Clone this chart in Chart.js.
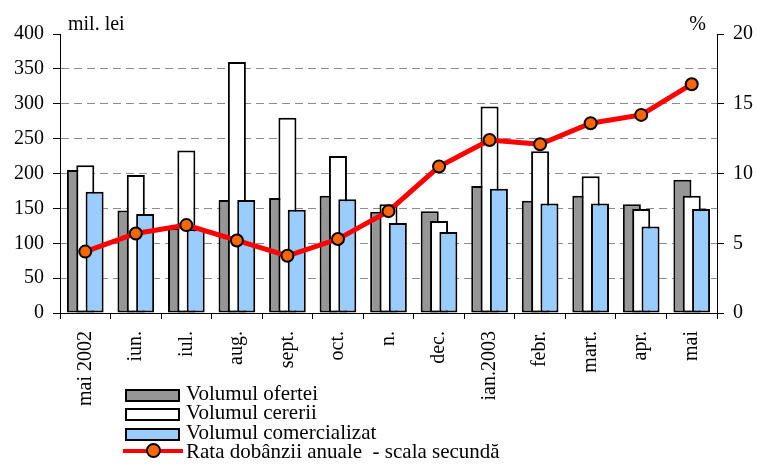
<!DOCTYPE html>
<html>
<head>
<meta charset="utf-8">
<script src="https://cdn.jsdelivr.net/npm/chart.js@4/dist/chart.umd.min.js"></script>
<style>
  html, body { margin: 0; padding: 0; background: #fff; }
  #wrap { position: relative; width: 757px; height: 464px; overflow: hidden; }
  #c { position: absolute; left: 0; top: 0; }
  #legend { position: absolute; left: 123px; top: 386px; font-family: "Liberation Serif", "Times New Roman", serif; font-size: 21px; color: #000; }
  .row { position: relative; height: 19.3px; white-space: pre; }
  .box { position: absolute; left: 2px; top: 3px; width: 51px; height: 9px; border: 2px solid #000; }
  .lbl { position: absolute; left: 63px; top: -5px; line-height: 24px; white-space: pre; }
  .ln { position: absolute; left: 0; top: 5px; width: 60px; height: 4px; background: #ff0000; }
  .dot { position: absolute; left: 23px; top: -0.5px; width: 11px; height: 11px; border: 2px solid #000; border-radius: 50%; background: #ff6600; }
</style>
</head>
<body>
<div id="wrap">
  <canvas id="c" width="757" height="464"></canvas>
  <div id="legend"></div>
</div>
<script>
const categories = ["mai 2002", "iun.", "iul.", "aug.", "sept.", "oct.", "n.", "dec.", "ian.2003", "febr.", "mart.", "apr.", "mai"];
const volumulOfertei = [205, 147, 121, 162, 165, 168, 145, 146, 182, 161, 168, 156, 191];
const volumulCererii = [212, 198, 233, 360, 280, 225, 156, 132, 296, 232, 196, 149, 168];
const volumulComercializat = [174, 142, 120, 162, 148, 163, 129, 116, 178, 157, 157, 124, 149];
const rataDobanzii = [4.4, 5.7, 6.3, 5.2, 4.1, 5.3, 7.3, 10.5, 12.4, 12.1, 13.6, 14.2, 16.4];
const seriesNames = ["Volumul ofertei", "Volumul cererii", "Volumul comercializat", "Rata dobânzii anuale  - scala secundă"];
const leftTicks = [0, 50, 100, 150, 200, 250, 300, 350, 400];
const rightTicks = [0, 5, 10, 15, 20];

const FONT = "'Liberation Serif', 'Times New Roman', serif";

// draw bars in order gray -> white -> blue, then the line on top
const drawOrderPlugin = {
  id: 'drawOrder',
  beforeDatasetsDraw(chart) {
    const ctx = chart.ctx;
    [0, 1, 2, 3].forEach(i => {
      const meta = chart.getDatasetMeta(i);
      if (meta && meta.visible !== false) {
        ctx.save();
        meta.controller.draw();
        ctx.restore();
      }
    });
    return false;
  }
};

const unitsPlugin = {
  id: 'units',
  afterDraw(chart) {
    const ctx = chart.ctx;
    const a = chart.chartArea;
    ctx.save();
    ctx.fillStyle = '#000';
    ctx.font = "20px " + FONT;
    ctx.textBaseline = 'alphabetic';
    ctx.textAlign = 'left';
    ctx.fillText('mil. lei', a.left + 8, a.top - 4);
    ctx.textAlign = 'right';
    ctx.fillText('%', a.right - 11, a.top - 4);
    ctx.restore();
  }
};

const barCommon = {
  type: 'bar',
  yAxisID: 'y',
  borderColor: '#000',
  borderWidth: 2,
  borderSkipped: false,
  categoryPercentage: 0.554,
  barPercentage: 1.93
};

new Chart(document.getElementById('c'), {
  data: {
    labels: categories,
    datasets: [
      Object.assign({}, barCommon, { label: seriesNames[0], data: volumulOfertei, backgroundColor: '#969696' }),
      Object.assign({}, barCommon, { label: seriesNames[1], data: volumulCererii, backgroundColor: '#ffffff' }),
      Object.assign({}, barCommon, { label: seriesNames[2], data: volumulComercializat, backgroundColor: '#99ccff' }),
      {
        type: 'line', label: seriesNames[3], data: rataDobanzii, yAxisID: 'y1',
        borderColor: '#ff0000', borderWidth: 5, tension: 0,
        pointRadius: 6, pointBorderWidth: 2, pointBorderColor: '#000', pointBackgroundColor: '#ff6600'
      }
    ]
  },
  options: {
    responsive: false,
    animation: false,
    devicePixelRatio: 1,
    layout: { padding: { top: 34, left: 0, right: 0, bottom: 0 } },
    plugins: { legend: { display: false }, tooltip: { enabled: false } },
    scales: {
      x: {
        type: 'category',
        offset: true,
        grid: { offset: true, drawOnChartArea: false, color: '#000', tickLength: 6, lineWidth: 1 },
        border: { color: '#000', width: 1 },
        ticks: { color: '#000', font: { family: FONT, size: 20 }, minRotation: 90, maxRotation: 90, padding: 12, autoSkip: false },
        afterFit(s) { s.height = 151; s.paddingLeft = 0; s.paddingRight = 0; }
      },
      y: {
        position: 'left',
        min: 0, max: 400,
        afterBuildTicks(s) { s.ticks = leftTicks.map(v => ({ value: v })); },
        grid: {
          color: c => (c.tick && (c.tick.value === 0 || c.tick.value === 400)) ? 'rgba(0,0,0,0)' : '#8c8c8c',
          tickColor: '#000',
          tickBorderDash: [],
          tickLength: 7,
          lineWidth: 1
        },
        border: { color: '#000', width: 1, dash: [8, 5] },
        ticks: { color: '#000', font: { family: FONT, size: 20 }, padding: 9 },
        afterFit(s) { s.width = 60; s.paddingTop = 0; s.paddingBottom = 0; }
      },
      y1: {
        position: 'right',
        min: 0, max: 20,
        afterBuildTicks(s) { s.ticks = rightTicks.map(v => ({ value: v })); },
        grid: { drawOnChartArea: false, color: '#000', tickLength: 7, lineWidth: 1 },
        border: { color: '#000', width: 1 },
        ticks: { color: '#000', font: { family: FONT, size: 20 }, padding: 9 },
        afterFit(s) { s.width = 40; s.paddingTop = 0; s.paddingBottom = 0; }
      }
    }
  },
  plugins: [drawOrderPlugin, unitsPlugin]
});

// HTML legend built from the series names
const legendColors = ['#969696', '#ffffff', '#99ccff'];
const lg = document.getElementById('legend');
seriesNames.forEach((name, i) => {
  const row = document.createElement('div');
  row.className = 'row';
  if (i < 3) {
    const b = document.createElement('div');
    b.className = 'box';
    b.style.background = legendColors[i];
    row.appendChild(b);
  } else {
    const l = document.createElement('div'); l.className = 'ln'; row.appendChild(l);
    const d = document.createElement('div'); d.className = 'dot'; row.appendChild(d);
  }
  const t = document.createElement('div');
  t.className = 'lbl';
  t.textContent = name;
  row.appendChild(t);
  lg.appendChild(row);
});
</script>
</body>
</html>
